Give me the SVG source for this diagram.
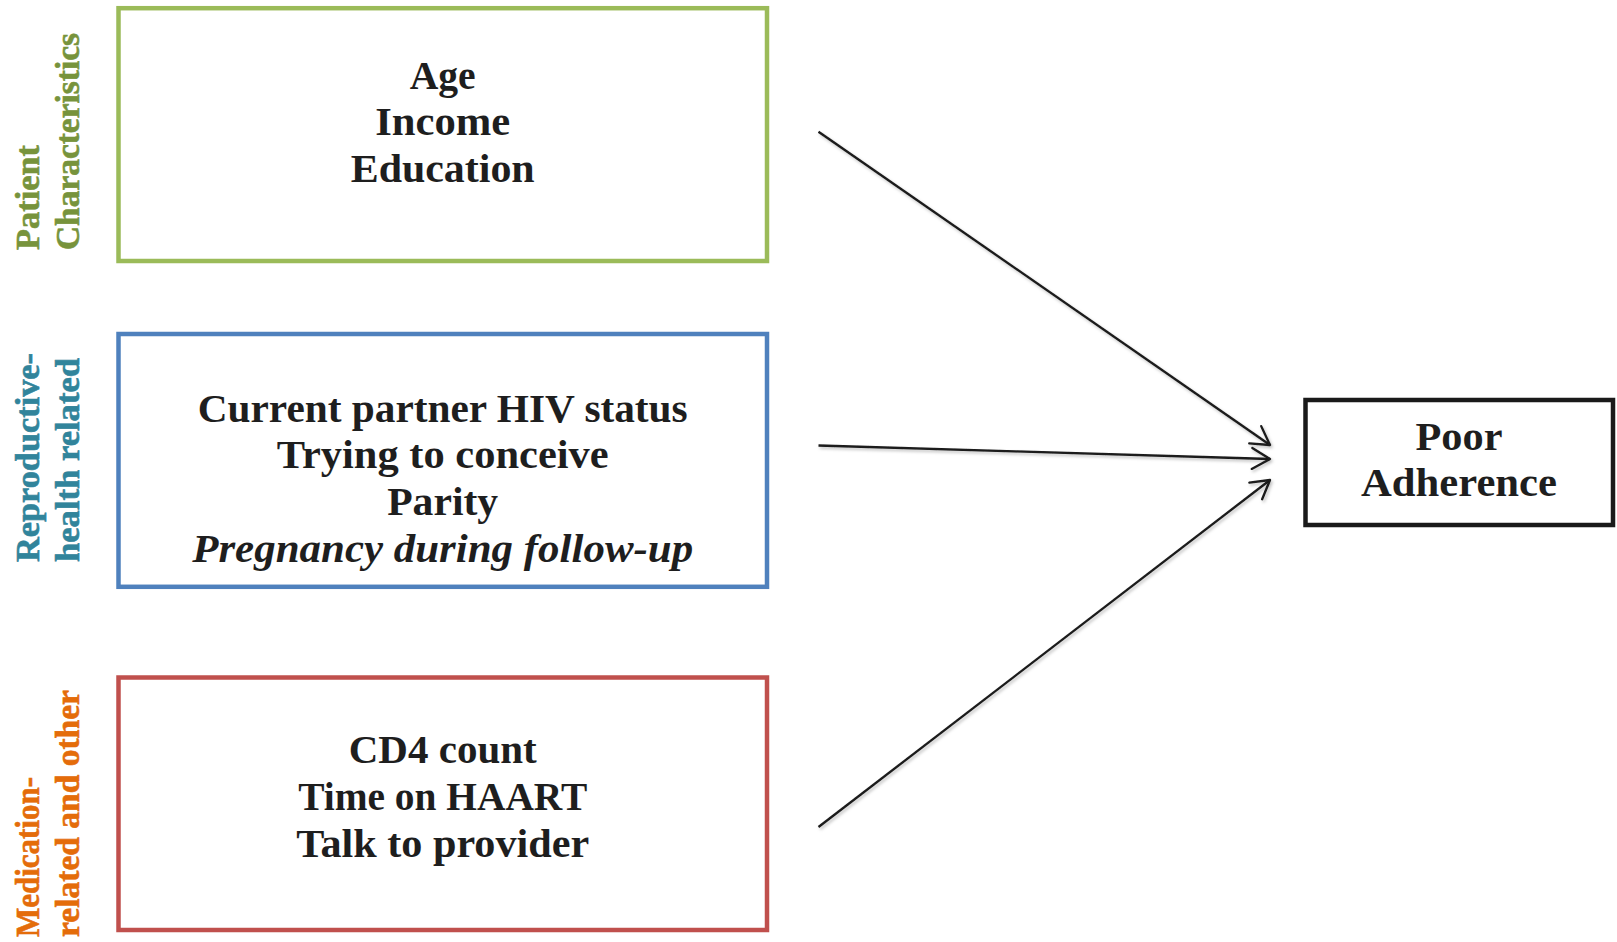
<svg xmlns="http://www.w3.org/2000/svg" width="1617" height="942" viewBox="0 0 1617 942">
  <defs>
    <style>
      .box { fill: #ffffff; stroke-width: 4.5; }
      .t { font-family: "Liberation Serif", "Times New Roman", serif; font-weight: bold; font-size: 41px; fill: #1e1e1e; text-anchor: middle; }
      .ti { font-style: italic; }
      .lab { font-family: "Liberation Serif", "Times New Roman", serif; font-weight: bold; font-size: 33px; text-anchor: start; stroke-width: 0.6; }
      .conn { stroke: #1a1a1a; stroke-width: 2.3; fill: none; marker-end: url(#arrow); }
    </style>
    <marker id="arrow" viewBox="0 0 24 24" refX="21" refY="12" markerWidth="24" markerHeight="24" markerUnits="userSpaceOnUse" orient="auto">
      <path d="M3,1.5 L21,12 L3,22.5" fill="none" stroke="#1a1a1a" stroke-width="2.3" stroke-linecap="round" stroke-linejoin="round"/>
    </marker>
    <filter id="sh" x="-10%" y="-10%" width="120%" height="120%">
      <feDropShadow dx="1.5" dy="2" stdDeviation="1.5" flood-color="#000" flood-opacity="0.25"/>
    </filter>
  </defs>
  <rect width="1617" height="942" fill="#ffffff"/>

  <g id="label-patient">
    <text class="lab" fill="#77933C" stroke="#77933C" transform="translate(39,250) rotate(-90)" textLength="105" lengthAdjust="spacingAndGlyphs">Patient</text>
    <text class="lab" fill="#77933C" stroke="#77933C" transform="translate(78.5,250) rotate(-90)" textLength="217" lengthAdjust="spacingAndGlyphs">Characteristics</text>
  </g>
  <g id="label-reproductive">
    <text class="lab" fill="#31849B" stroke="#31849B" transform="translate(39,562) rotate(-90)" textLength="209" lengthAdjust="spacingAndGlyphs">Reproductive-</text>
    <text class="lab" fill="#31849B" stroke="#31849B" transform="translate(78.5,562) rotate(-90)" textLength="204" lengthAdjust="spacingAndGlyphs">health related</text>
  </g>
  <g id="label-medication">
    <text class="lab" fill="#E46C0A" stroke="#E46C0A" transform="translate(39,937) rotate(-90)" textLength="160" lengthAdjust="spacingAndGlyphs">Medication-</text>
    <text class="lab" fill="#E46C0A" stroke="#E46C0A" transform="translate(78.5,937) rotate(-90)" textLength="247" lengthAdjust="spacingAndGlyphs">related and other</text>
  </g>

  <g id="node-patient">
    <rect class="box" x="118.5" y="8.2" width="648.5" height="252.8" stroke="#9BBB59"/>
    <text class="t" x="442.7" y="88.5" textLength="66" lengthAdjust="spacingAndGlyphs">Age</text>
    <text class="t" x="442.7" y="135" textLength="135" lengthAdjust="spacingAndGlyphs">Income</text>
    <text class="t" x="442.7" y="181.5" textLength="184" lengthAdjust="spacingAndGlyphs">Education</text>
  </g>

  <g id="node-reproductive">
    <rect class="box" x="118.5" y="334" width="648.5" height="252.8" stroke="#4F81BD"/>
    <text class="t" x="442.7" y="421.7" textLength="490" lengthAdjust="spacingAndGlyphs">Current partner HIV status</text>
    <text class="t" x="442.7" y="468" textLength="332" lengthAdjust="spacingAndGlyphs">Trying to conceive</text>
    <text class="t" x="442.7" y="515" textLength="111" lengthAdjust="spacingAndGlyphs">Parity</text>
    <text class="t ti" x="442.7" y="561.7" textLength="501" lengthAdjust="spacingAndGlyphs">Pregnancy during follow-up</text>
  </g>

  <g id="node-medication">
    <rect class="box" x="118.5" y="677.5" width="648.5" height="252.5" stroke="#C0504D"/>
    <text class="t" x="442.7" y="763" textLength="188" lengthAdjust="spacingAndGlyphs">CD4 count</text>
    <text class="t" x="442.7" y="809.5" textLength="289" lengthAdjust="spacingAndGlyphs">Time on HAART</text>
    <text class="t" x="442.7" y="857" textLength="293" lengthAdjust="spacingAndGlyphs">Talk to provider</text>
  </g>

  <g id="node-outcome">
    <rect class="box" x="1305.5" y="400" width="307.5" height="125" stroke="#1a1a1a"/>
    <text class="t" x="1459" y="450" textLength="87" lengthAdjust="spacingAndGlyphs">Poor</text>
    <text class="t" x="1459" y="496" textLength="196" lengthAdjust="spacingAndGlyphs">Adherence</text>
  </g>

  <g id="connectors" filter="url(#sh)">
    <line class="conn" x1="818.5" y1="131.7" x2="1270" y2="445"/>
    <line class="conn" x1="818.5" y1="445.5" x2="1270" y2="459"/>
    <line class="conn" x1="818.5" y1="827" x2="1270" y2="480"/>
  </g>
</svg>
